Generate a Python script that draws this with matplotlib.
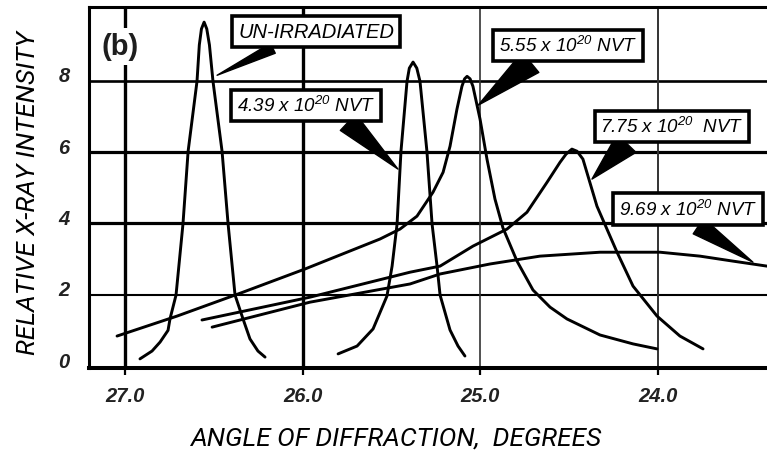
import matplotlib
matplotlib.use("Agg")
import matplotlib.pyplot as plt
import matplotlib.transforms as mtransforms

plt.rcParams['mathtext.fontset'] = 'custom'
plt.rcParams['mathtext.rm'] = 'Liberation Sans:italic'
plt.rcParams['mathtext.it'] = 'Liberation Sans:italic'

# diffraction profiles (angle in degrees, relative intensity)
un_x = [26.916, 26.848, 26.803, 26.758, 26.747, 26.713, 26.674, 26.645, 26.595, 26.582,
        26.570, 26.555, 26.540, 26.525, 26.505, 26.454, 26.420, 26.381, 26.336, 26.297,
        26.252, 26.212]
un_y = [0.20, 0.42, 0.67, 1.00, 1.32, 1.99, 3.98, 6.02, 7.98, 9.00,
        9.45, 9.64, 9.45, 9.00, 7.98, 6.02, 3.98, 1.99, 1.32, 0.76,
        0.42, 0.25]

n439_x = [25.801, 25.694, 25.604, 25.526, 25.497, 25.469, 25.447, 25.413, 25.400, 25.379,
          25.358, 25.340, 25.301, 25.272, 25.244, 25.227, 25.171, 25.126, 25.087]
n439_y = [0.34, 0.56, 1.04, 1.96, 2.80, 3.98, 6.02, 7.98, 8.35, 8.52,
          8.35, 7.98, 6.02, 3.98, 2.80, 1.99, 1.01, 0.56, 0.28]

n555_x = [27.045, 26.707, 26.336, 25.987, 25.751, 25.565, 25.452, 25.357, 25.267, 25.210,
          25.171, 25.132, 25.104, 25.089, 25.075, 25.058, 25.042, 25.002, 24.963, 24.918,
          24.873, 24.794, 24.704, 24.608, 24.513, 24.327, 24.141, 24.006]
n555_y = [0.84, 1.40, 2.07, 2.72, 3.19, 3.56, 3.84, 4.20, 4.87, 5.43,
          6.16, 7.20, 7.84, 8.05, 8.12, 8.05, 7.84, 6.92, 5.80, 4.68,
          3.87, 2.94, 2.13, 1.65, 1.32, 0.87, 0.62, 0.48]

n775_x = [26.567, 25.959, 25.396, 25.227, 25.042, 24.850, 24.738, 24.625, 24.552, 24.518,
          24.485, 24.456, 24.423, 24.344, 24.231, 24.141, 24.006, 23.877, 23.747]
n775_y = [1.29, 1.93, 2.63, 2.80, 3.36, 3.84, 4.31, 5.15, 5.71, 5.94,
          6.08, 6.02, 5.80, 4.48, 3.19, 2.24, 1.40, 0.84, 0.48]

n969_x = [26.510, 25.959, 25.396, 25.227, 24.946, 24.665, 24.327, 24.141, 23.989, 23.764,
          23.578, 23.387]
n969_y = [1.09, 1.79, 2.30, 2.58, 2.86, 3.08, 3.19, 3.19, 3.19, 3.08,
          2.94, 2.80]

xticks = [27.0, 26.0, 25.0, 24.0]
xtick_labels = ['27.0', '26.0', '25.0', '24.0']
yticks = [0, 2, 4, 6, 8]

fig = plt.figure(figsize=(7.67, 4.52), dpi=100)
ax = fig.add_axes([0.116, 0.1836, 0.884, 0.7984])

ax.set_xlim(27.203, 23.387)
ax.set_ylim(-0.056, 10.06)

# grid drawn by hand, the lines are not all the same weight
for yv, lw in zip([2, 4, 6, 8], [1.5, 2.3, 2.3, 1.9]):
    ax.axhline(yv, color='black', lw=lw, zorder=1)
for xv, lw, c in zip(xticks, [2.4, 2.4, 1.2, 1.4], ['black', 'black', '#333333', '#333333']):
    ax.axvline(xv, color=c, lw=lw, zorder=1)

for xs, ys in [(un_x, un_y), (n439_x, n439_y), (n555_x, n555_y), (n775_x, n775_y), (n969_x, n969_y)]:
    ax.plot(xs, ys, color='black', lw=2.1, zorder=3, solid_capstyle='round', solid_joinstyle='round')

ax.spines['right'].set_visible(False)
ax.spines['top'].set_linewidth(2.2)
ax.spines['left'].set_linewidth(2.2)
ax.spines['bottom'].set_linewidth(2.9)

tick_font = dict(family=['Liberation Sans', 'DejaVu Sans'], style='italic', weight='bold', size=14.5)
ax.set_xticks(xticks)
ax.set_xticklabels(xtick_labels, **tick_font, color='#222222')
ax.set_yticks(yticks)
ax.set_yticklabels([str(v) for v in yticks], **tick_font, color='#222222')
ax.tick_params(axis='x', direction='out', length=5, width=1.6, pad=8)
ax.tick_params(axis='y', length=0, pad=14)
shift = mtransforms.ScaledTranslation(0, 5 / 72, fig.dpi_scale_trans)
for lab in ax.get_yticklabels():
    lab.set_transform(lab.get_transform() + shift)

label_font = dict(family=['Roboto', 'Liberation Sans'], style='italic', size=19)
fig.text(0.516, 0.029, 'ANGLE OF DIFFRACTION,  DEGREES', ha='center', va='center', **label_font)
fig.text(0.037, 0.573, 'RELATIVE X-RAY INTENSITY', ha='center', va='center', rotation=90, **label_font)

ax.text(27.028, 8.96, '(b)', ha='center', va='center', fontsize=21, weight='bold',
        family=['Liberation Sans', 'DejaVu Sans'], color='#1e1e1e', zorder=4,
        bbox=dict(boxstyle='square,pad=0.15', fc='white', ec='none'))

# callout boxes with wedge pointers
notes = [
    ('UN-IRRADIATED', (26.482, 8.15), (25.925, 9.38), 0.32, 0.55, 14.5),
    ('4.39 x 10$^{20}$ NVT', (25.464, 5.52), (25.981, 7.31), 0.75, 1.2, 13.5),
    ('5.55 x 10$^{20}$ NVT', (25.013, 7.31), (24.507, 8.99), 0.29, 1.4, 13.5),
    ('7.75 x 10$^{20}$  NVT', (24.372, 5.24), (23.922, 6.72), 0.23, 1.4, 13.5),
    ('9.69 x 10$^{20}$ NVT', (23.466, 2.91), (23.832, 4.40), 0.5, 1.0, 13.5),
]
for txt, tip, center, rx, tw, fs in notes:
    ax.annotate(txt, xy=tip, xytext=center, textcoords='data',
                ha='center', va='center', fontsize=fs, style='italic',
                family=['Liberation Sans', 'DejaVu Sans'], zorder=5, annotation_clip=False,
                bbox=dict(boxstyle='square,pad=0.3', fc='white', ec='black', lw=2.6),
                arrowprops=dict(arrowstyle='wedge,tail_width=%.2f' % tw, fc='black', ec='black',
                                relpos=(rx, 0.0), shrinkA=0, shrinkB=0))

fig.savefig('out.png', dpi=100)
